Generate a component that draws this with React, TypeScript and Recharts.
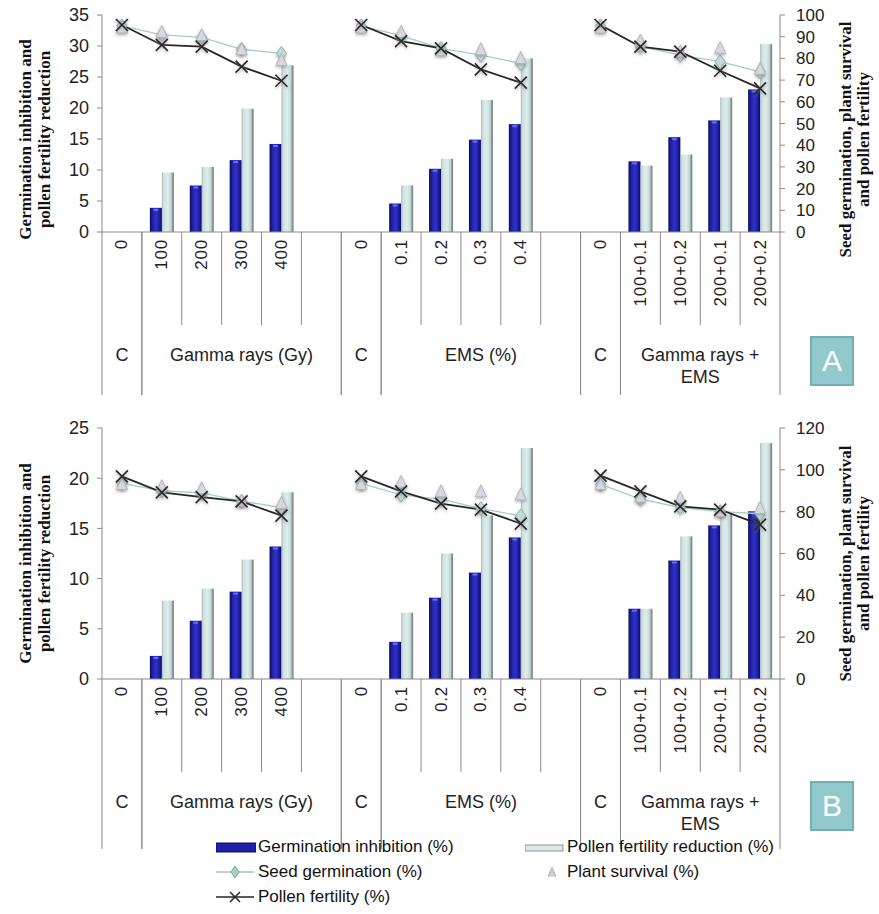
import React from 'react';
import { ComposedChart, Bar, Line, XAxis, YAxis, Legend } from 'recharts';

// Category axis: dose labels (level 1) and treatment groups (level 2)
const doses = ['0', '100', '200', '300', '400', '', '0', '0.1', '0.2', '0.3', '0.4', '', '0', '100+0.1', '100+0.2', '200+0.1', '200+0.2'];
const groupLabels = [['C'], ['Gamma rays (Gy)'], ['C'], ['EMS (%)'], ['C'], ['Gamma rays +', 'EMS']];
const groupSpans = [1, 5, 1, 5, 1, 4];

// Panel A
const germInhibA = [0, 3.9, 7.5, 11.6, 14.2, null, 0, 4.6, 10.2, 14.9, 17.4, null, 0, 11.4, 15.3, 18.0, 23.0];
const pollenRedA = [0, 9.6, 10.5, 19.9, 26.9, null, 0, 7.5, 11.8, 21.3, 28.0, null, 0, 10.7, 12.5, 21.7, 30.3];
const seedGermA = [95, 90.8, 89.7, 84.2, 82.3, null, 95, 90.5, 84.6, 81.5, 77.7, null, 95, 85.4, 81.5, 78.5, 73.8];
const survivalA = [94, 92, 90.5, 84, 79, null, 94, 92, 83.5, 84, 80, null, 94, 88, 83, 84.6, 75];
const pollenFertA = [95.4, 86.2, 85.4, 76.2, 69.7, null, 95.4, 88, 84.6, 74.9, 68.8, null, 95.4, 85.4, 83.1, 74.3, 66.2];

// Panel B
const germInhibB = [0, 2.3, 5.8, 8.7, 13.2, null, 0, 3.7, 8.1, 10.6, 14.1, null, 0, 7.0, 11.8, 15.3, 16.7];
const pollenRedB = [0, 7.8, 9.0, 11.9, 18.6, null, 0, 6.6, 12.5, 16.3, 23.0, null, 0, 7.0, 14.2, 16.4, 23.5];
const seedGermB = [93.5, 90, 89, 85, 82, null, 93.5, 88, 86, 81.5, 78, null, 93, 86, 82, 80, 79];
const survivalB = [93, 92, 91, 85, 84, null, 93, 94, 89.5, 89.5, 88, null, 93, 87, 86.5, 80, 81.5];
const pollenFertB = [96.9, 89.2, 87, 84.9, 78.1, null, 96.9, 89.7, 83.8, 81, 74.3, null, 97.2, 89.7, 82.5, 81, 73.8];

const leftTicksA = [0, 5, 10, 15, 20, 25, 30, 35];
const rightTicksA = [0, 10, 20, 30, 40, 50, 60, 70, 80, 90, 100];
const leftTicksB = [0, 5, 10, 15, 20, 25];
const rightTicksB = [0, 20, 40, 60, 80, 100, 120];

const seriesNames = {
  germ: 'Germination inhibition (%)',
  pollenRed: 'Pollen fertility reduction (%)',
  seed: 'Seed germination (%)',
  survival: 'Plant survival (%)',
  pollen: 'Pollen fertility (%)',
};

const leftTitle = ['Germination inhibition and', 'pollen fertility reduction'];
const rightTitle = ['Seed germination, plant survival', 'and pollen fertility'];

const buildRows = (germ, red, seed, surv, pol) =>
  doses.map((d, i) => ({ dose: d, germ: germ[i], pollenRed: red[i], seed: seed[i], survival: surv[i], pollen: pol[i] }));

const rowsA = buildRows(germInhibA, pollenRedA, seedGermA, survivalA, pollenFertA);
const rowsB = buildRows(germInhibB, pollenRedB, seedGermB, survivalB, pollenFertB);

const groupStarts = groupSpans.reduce((acc, s, k) => {
  acc.push(k === 0 ? 0 : acc[k - 1] + groupSpans[k - 1]);
  return acc;
}, []);

const TICK_FONT = '"Liberation Sans", Arial, sans-serif';
const TITLE_FONT = '"Liberation Serif", "Times New Roman", serif';
const LINE_COLOR = '#8a8a8a';

function CategoryTick(props) {
  const { x, y, payload, index, longLen } = props;
  const i = typeof index === 'number' ? index : payload.index;
  const half = payload && payload.offset ? payload.offset : 20;
  const left = x - half;
  const right = x + half;
  const shortLen = 93;
  const gIdx = groupStarts.indexOf(i);
  const nextStart = groupStarts.indexOf(i + 1) >= 0 || i === doses.length - 1;
  const parts = [];
  if (gIdx >= 0) {
    parts.push(<line key="gl" x1={left} y1={y} x2={left} y2={y + longLen} stroke={LINE_COLOR} strokeWidth={1} />);
    const span = groupSpans[gIdx];
    const cx = left + span * half;
    groupLabels[gIdx].forEach((t, k) => {
      parts.push(
        <text key={'g' + k} x={cx} y={y + 123 + k * 22} textAnchor="middle" dominantBaseline="central"
          fontSize={18} fontFamily={TICK_FONT} fill="#222">{t}</text>
      );
    });
  }
  parts.push(
    <line key="r" x1={right} y1={y} x2={right} y2={y + (nextStart ? longLen : shortLen)} stroke={LINE_COLOR} strokeWidth={1} />
  );
  const label = doses[i];
  if (label) {
    parts.push(
      <text key="t" transform={`translate(${x},${y + 7}) rotate(-90)`} textAnchor="end" dominantBaseline="central"
        fontSize={17} letterSpacing={0.8} fontFamily={TICK_FONT} fill="#222">{label}</text>
    );
  }
  return <g>{parts}</g>;
}

function AxisTitle(props) {
  const { viewBox, lines, side, dy } = props;
  const vb = viewBox || { x: 0, y: 0, width: 0, height: 0 };
  const cy = vb.y + vb.height / 2 + (dy || 0);
  const xs = side === 'left' ? [vb.x + 25, vb.x + 44] : [vb.x + 65, vb.x + 83];
  return (
    <g>
      {lines.map((t, k) => (
        <text key={k} transform={`translate(${xs[k]},${cy}) rotate(-90)`} textAnchor="middle" dominantBaseline="central"
          fontSize={17} fontWeight="bold" fontFamily={TITLE_FONT} fill="#111">{t}</text>
      ))}
    </g>
  );
}

function CylBar(props) {
  const { x, y, width, height, fillId, cap } = props;
  if (height == null || height <= 0.5) return null;
  return (
    <g>
      <rect x={x} y={y} width={width} height={height} fill={`url(#${fillId})`} />
      {cap ? <rect x={x + width * 0.3} y={y + 1} width={width * 0.4} height={2} fill={cap} /> : null}
    </g>
  );
}

const XDot = (props) => {
  const { cx, cy, index } = props;
  if (cx == null || cy == null || props.value == null) return <g key={'x' + index} />;
  const s = 6;
  return (
    <g key={'x' + index} filter="url(#mkShadow)">
      <line x1={cx - s} y1={cy - s} x2={cx + s} y2={cy + s} stroke="#2a2a2a" strokeWidth={1.7} />
      <line x1={cx - s} y1={cy + s} x2={cx + s} y2={cy - s} stroke="#2a2a2a" strokeWidth={1.7} />
    </g>
  );
};

const DiamondDot = (props) => {
  const { cx, cy, index } = props;
  if (cx == null || cy == null || props.value == null) return <g key={'d' + index} />;
  return (
    <polygon key={'d' + index} filter="url(#mkShadow)"
      points={`${cx},${cy - 7} ${cx + 5},${cy} ${cx},${cy + 7} ${cx - 5},${cy}`}
      fill="#c2dcd6" stroke="#8fb3ac" strokeWidth={1} />
  );
};

const TriangleDot = (props) => {
  const { cx, cy, index } = props;
  if (cx == null || cy == null || props.value == null) return <g key={'t' + index} />;
  return (
    <polygon key={'t' + index} filter="url(#mkShadow)"
      points={`${cx},${cy - 7} ${cx + 5.5},${cy + 5} ${cx - 5.5},${cy + 5}`}
      fill="#d8d8e0" stroke="#b4b4bc" strokeWidth={1} />
  );
};

function LegendMarker({ k }) {
  if (k === 'germ') {
    return (
      <svg width={40} height={20}>
        <rect x={0} y={6} width={40} height={9} fill="#1f1fa8" stroke="#0c0c60" strokeWidth={1} />
      </svg>
    );
  }
  if (k === 'pollenRed') {
    return (
      <svg width={40} height={20}>
        <rect x={0} y={8} width={38} height={6} fill="#dde9e9" stroke="#8a9898" strokeWidth={1} />
      </svg>
    );
  }
  if (k === 'seed') {
    return (
      <svg width={40} height={20}>
        <line x1={0} y1={10} x2={38} y2={10} stroke="#9cc7bf" strokeWidth={1.3} />
        <polygon points="19,4 23,10 19,16 15,10" fill="#a8cfc7" stroke="#7fa8a0" />
      </svg>
    );
  }
  if (k === 'survival') {
    return (
      <svg width={40} height={20}>
        <polygon points="27,5 31,14 23,14" fill="#cfcfd6" stroke="#b8b8c0" />
      </svg>
    );
  }
  return (
    <svg width={40} height={20}>
      <line x1={0} y1={10} x2={38} y2={10} stroke="#222" strokeWidth={1.6} />
      <line x1={14} y1={5} x2={24} y2={15} stroke="#222" strokeWidth={1.4} />
      <line x1={14} y1={15} x2={24} y2={5} stroke="#222" strokeWidth={1.4} />
    </svg>
  );
}

const legendCells = {
  germ: [216, 0],
  pollenRed: [525, 0],
  seed: [216, 25],
  survival: [525, 25],
  pollen: [216, 50],
};

function LegendContent(props) {
  const items = (props.payload || []).filter((it) => legendCells[it.dataKey]);
  return (
    <div style={{ position: 'relative', width: 879, height: 80 }}>
      {items.map((it) => {
        const [lx, ly] = legendCells[it.dataKey];
        return (
          <div key={it.dataKey} style={{ position: 'absolute', left: lx, top: ly, height: 20, display: 'flex', alignItems: 'center', whiteSpace: 'nowrap' }}>
            <LegendMarker k={it.dataKey} />
            <span style={{ marginLeft: 2, fontSize: 17, fontFamily: TICK_FONT, color: '#111' }}>{it.value}</span>
          </div>
        );
      })}
    </div>
  );
}

function Defs({ id }) {
  return (
    <defs>
      <linearGradient id={'blue' + id} x1="0" y1="0" x2="1" y2="0">
        <stop offset="0%" stopColor="#0b0b66" />
        <stop offset="30%" stopColor="#2626b2" />
        <stop offset="55%" stopColor="#3030c6" />
        <stop offset="85%" stopColor="#18189a" />
        <stop offset="100%" stopColor="#09095a" />
      </linearGradient>
      <linearGradient id={'grey' + id} x1="0" y1="0" x2="1" y2="0">
        <stop offset="0%" stopColor="#a3b6b6" />
        <stop offset="15%" stopColor="#cfe1e1" />
        <stop offset="50%" stopColor="#dfecec" />
        <stop offset="78%" stopColor="#c0d3d3" />
        <stop offset="88%" stopColor="#8a9c9c" />
        <stop offset="100%" stopColor="#6f7b7b" />
      </linearGradient>
      <filter id="mkShadow" x="-60%" y="-60%" width="220%" height="220%">
        <feDropShadow dx="0" dy="1.5" stdDeviation="1.4" floodColor="#777" floodOpacity="0.55" />
      </filter>
    </defs>
  );
}

function Panel({ id, rows, leftMax, leftTicks, rightMax, rightTicks, height, top, xHeight, longLen, titleDy, legend }) {
  return (
    <ComposedChart width={879} height={height} data={rows} margin={{ top, right: 0, bottom: 0, left: 0 }} barGap={0} barSize={12}>
      <Defs id={id} />
      <XAxis dataKey="dose" interval={0} height={xHeight} tickSize={0} tickMargin={0}
        axisLine={{ stroke: LINE_COLOR }} tick={<CategoryTick longLen={longLen} />} />
      <YAxis yAxisId="l" orientation="left" width={102} domain={[0, leftMax]} ticks={leftTicks} interval={0}
        tickSize={5} tickMargin={8} axisLine={{ stroke: LINE_COLOR }} tickLine={{ stroke: LINE_COLOR }}
        tick={{ fontSize: 18, fill: '#222', fontFamily: TICK_FONT }}
        label={<AxisTitle lines={leftTitle} side="left" dy={titleDy} />} />
      <YAxis yAxisId="r" orientation="right" width={99} domain={[0, rightMax]} ticks={rightTicks} interval={0}
        tickSize={5} tickMargin={11} axisLine={{ stroke: LINE_COLOR }} tickLine={{ stroke: LINE_COLOR }}
        tick={{ fontSize: 17, fill: '#222', fontFamily: TICK_FONT }}
        label={<AxisTitle lines={rightTitle} side="right" dy={titleDy} />} />
      <Bar yAxisId="l" dataKey="germ" name={seriesNames.germ} fill="#1f1fa8" isAnimationActive={false}
        shape={<CylBar fillId={'blue' + id} cap="#6b6bf0" />} />
      <Bar yAxisId="l" dataKey="pollenRed" name={seriesNames.pollenRed} fill="#dde9e9" isAnimationActive={false}
        shape={<CylBar fillId={'grey' + id} />} />
      <Line yAxisId="r" dataKey="seed" name={seriesNames.seed} stroke="#a3cec6" strokeWidth={1.3}
        dot={DiamondDot} activeDot={false} isAnimationActive={false} />
      <Line yAxisId="r" dataKey="survival" name={seriesNames.survival} stroke="none"
        dot={TriangleDot} activeDot={false} isAnimationActive={false} />
      <Line yAxisId="r" dataKey="pollen" name={seriesNames.pollen} stroke="#262626" strokeWidth={1.8}
        dot={XDot} activeDot={false} isAnimationActive={false} />
      {legend ? (
        <Legend layout="horizontal" verticalAlign="middle" align="center"
          wrapperStyle={{ left: 0, top: 427, width: 879, height: 80 }} content={<LegendContent />} />
      ) : null}
    </ComposedChart>
  );
}

function Badge({ letter, top }) {
  return (
    <div style={{
      position: 'absolute', left: 810, top, width: 40, height: 46, background: '#92c9cd',
      border: '2px solid #74adb2', color: '#fff', fontFamily: TICK_FONT, fontSize: 30,
      display: 'flex', alignItems: 'center', justifyContent: 'center', boxSizing: 'content-box',
    }}>{letter}</div>
  );
}

export default function App() {
  return (
    <div style={{ position: 'absolute', left: 0, top: 0, width: 879, height: 914, background: '#fff', overflow: 'hidden' }}>
      <div style={{ position: 'absolute', left: 0, top: 0 }}>
        <Panel id="A" rows={rowsA} leftMax={35} leftTicks={leftTicksA} rightMax={100} rightTicks={rightTicksA}
          height={410} top={15} xHeight={178} longLen={163} titleDy={16} legend={false} />
      </div>
      <div style={{ position: 'absolute', left: 0, top: 410 }}>
        <Panel id="B" rows={rowsB} leftMax={25} leftTicks={leftTicksB} rightMax={120} rightTicks={rightTicksB}
          height={504} top={18} xHeight={235} longLen={170} titleDy={10} legend={true} />
      </div>
      <Badge letter="A" top={336} />
      <Badge letter="B" top={781} />
    </div>
  );
}
